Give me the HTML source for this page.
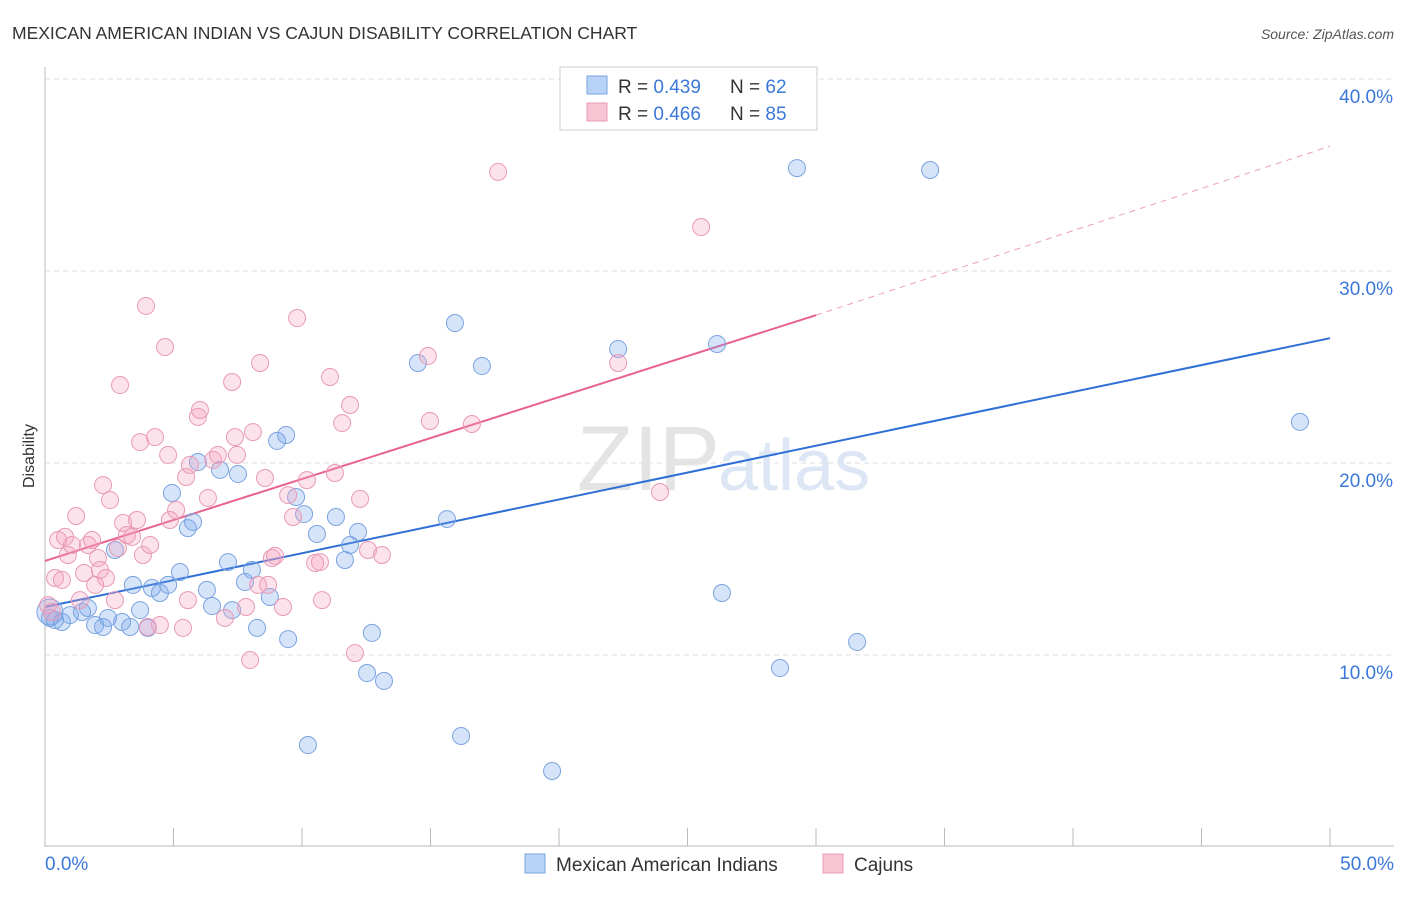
<!DOCTYPE html>
<html><head><meta charset="utf-8"><style>
body{margin:0;background:#fff;font-family:"Liberation Sans",sans-serif;}
svg text{font-family:"Liberation Sans",sans-serif;}
</style></head><body>
<svg id="chart" width="1406" height="892">
<text x="12" y="39" font-size="17.5" fill="#333">MEXICAN AMERICAN INDIAN VS CAJUN DISABILITY CORRELATION CHART</text>
<text x="1394" y="39" font-size="14" fill="#555" font-style="italic" text-anchor="end">Source: ZipAtlas.com</text>
<text x="34" y="456" font-size="16" fill="#333" text-anchor="middle" transform="rotate(-90 34 456)">Disability</text>
<g id="grid"></g>
<text x="720" y="490" font-size="92" fill="#e4e4e4" text-anchor="end" font-family="Liberation Serif">ZIP</text>
<text x="718" y="490" font-size="72" fill="#dce6f5">atlas</text>
<g id="lines"></g>
<g id="points"></g>
<g>
<rect x="560" y="67" width="257" height="63" fill="#fff" stroke="#ccc"/>
<rect x="587" y="76" width="20" height="18" fill="#b8d3f5" stroke="#7aa3e0"/>
<rect x="587" y="103" width="20" height="18" fill="#f8c4d4" stroke="#e89ab5"/>
<text x="618" y="93" font-size="19" fill="#333">R = <tspan fill="#3b78d8">0.439</tspan></text>
<text x="730" y="93" font-size="19" fill="#333">N = <tspan fill="#3b78d8">62</tspan></text>
<text x="618" y="120" font-size="19" fill="#333">R = <tspan fill="#3b78d8">0.466</tspan></text>
<text x="730" y="120" font-size="19" fill="#333">N = <tspan fill="#3b78d8">85</tspan></text>
</g>
<g>
<rect x="525" y="854" width="20" height="19" fill="#b8d3f5" stroke="#7aa3e0"/>
<text x="556" y="871" font-size="19" fill="#333">Mexican American Indians</text>
<rect x="823" y="854" width="20" height="19" fill="#f8c4d4" stroke="#e89ab5"/>
<text x="854" y="871" font-size="19" fill="#333">Cajuns</text>
</g>
</svg>
<script>
const blueX=[0.19,0.39,0.66,0.97,1.44,1.67,1.95,2.26,2.45,3.0,3.31,3.42,3.7,4.0,4.16,4.47,4.79,4.94,5.25,5.56,5.76,5.95,6.3,6.5,6.81,7.12,7.28,7.51,7.78,8.05,8.25,8.75,9.03,9.38,9.46,9.77,10.08,10.23,10.58,11.32,11.67,11.87,12.18,12.53,12.72,13.19,14.51,15.64,15.95,16.19,17.0,19.73,22.3,26.15,26.34,28.6,29.26,31.6,34.44,48.83,2.72,0.19];
const blueY=[12.24,11.82,11.72,12.08,12.24,12.45,11.56,11.46,11.93,11.72,11.46,13.65,12.34,11.41,13.49,13.23,13.65,18.44,14.32,16.61,16.93,20.05,13.39,12.55,19.64,14.84,12.34,19.43,13.8,14.43,11.41,13.02,21.15,21.46,10.83,18.23,17.34,5.31,16.3,17.19,14.95,15.73,16.41,9.06,11.15,8.65,25.21,17.08,27.29,5.78,25.05,3.96,25.94,26.2,13.23,9.32,35.36,10.68,35.26,22.14,15.47,11.93];
const pinkX=[0.12,0.27,0.39,0.51,0.66,0.78,0.89,1.05,1.21,1.36,1.52,1.67,1.83,1.95,2.06,2.14,2.26,2.37,2.53,2.72,2.84,2.92,3.04,3.19,3.39,3.58,3.7,3.81,3.93,4.09,4.28,4.47,4.67,4.79,4.86,5.1,5.37,5.49,5.56,5.64,5.95,6.03,6.34,6.54,6.73,7.0,7.28,7.39,7.47,7.82,7.98,8.09,8.29,8.37,8.56,8.68,8.83,8.95,9.26,9.46,9.65,9.81,10.19,10.51,10.7,10.78,11.09,11.28,11.56,11.87,12.06,12.26,12.57,13.11,14.9,14.98,16.61,17.63,22.3,23.93,25.53,4.0];
const pinkY=[12.6,12.24,14.01,15.99,13.91,16.15,15.21,15.73,17.24,12.86,14.27,15.73,15.99,13.65,15.05,14.43,18.85,14.01,18.07,12.86,15.57,24.06,16.88,16.25,16.15,17.03,21.09,15.21,28.18,15.73,21.35,11.56,26.04,20.42,17.03,17.55,11.41,19.27,12.86,19.9,22.4,22.76,18.18,20.16,20.42,11.93,24.22,21.35,20.42,12.5,9.74,21.61,13.65,25.21,19.22,13.65,15.05,15.16,12.5,18.33,17.19,27.55,19.11,14.79,14.84,12.86,24.48,19.48,22.08,23.02,10.1,18.13,15.47,15.21,25.57,22.19,22.03,35.16,25.21,18.49,32.29,11.46];
const yTicks=[10,20,30,40];
const yTickLabels=["10.0%","20.0%","30.0%","40.0%"];
const xTicks=[0,5,10,15,20,25,30,35,40,45,50];
const blueTrend=[12.5,26.5];   // y at x=0 and x=50
const pinkTrend=[14.9,27.7,36.5]; // y at x=0, x=30 (solid end), x=50
const sx=v=>45+v*25.7, sy=v=>847-v*19.2;
const NS="http://www.w3.org/2000/svg";
function mk(tag,attrs,parent){const e=document.createElementNS(NS,tag);for(const k in attrs)e.setAttribute(k,attrs[k]);parent.appendChild(e);return e;}
const grid=document.getElementById('grid');
yTicks.forEach((t,i)=>{
 const l=mk('line',{x1:45,x2:1394,y1:sy(t),y2:sy(t),stroke:'#ddd','stroke-dasharray':'5,4'},grid);
 
 
 const tx=mk('text',{x:1393,y:sy(t)+24,'font-size':19,fill:'#3b78d8','text-anchor':'end'},grid);
 tx.textContent=yTickLabels[i];
 
 
});
const ax=mk('line',{x1:45,x2:45,y1:67,y2:847,stroke:'#bbb'},grid);


const bx=mk('line',{x1:45,x2:1394,y1:846,y2:846,stroke:'#bbb'},grid);


xTicks.forEach(t=>{
 const l=mk('line',{x1:sx(t),x2:sx(t),y1:828,y2:846,stroke:'#bbb'},grid);
 
 
});
const xl0=mk('text',{x:45,y:870,'font-size':19,fill:'#3b78d8'},grid);xl0.textContent='0.0%';


const xl1=mk('text',{x:1394,y:870,'font-size':19,fill:'#3b78d8','text-anchor':'end'},grid);xl1.textContent='50.0%';


const pts=document.getElementById('points');
blueX.forEach((x,i)=>{
 const c=mk('circle',{cx:sx(x),cy:sy(blueY[i]),r:i==0?13:8.5,fill:'rgba(120,165,235,0.3)',stroke:'#7aa3e0','stroke-width':1},pts);
 
 
});
pinkX.forEach((x,i)=>{
 const c=mk('circle',{cx:sx(x),cy:sy(pinkY[i]),r:8.5,fill:'rgba(245,160,190,0.3)',stroke:'#e89ab5','stroke-width':1},pts);
 
 
});
const ln=document.getElementById('lines');
const b=mk('line',{x1:sx(0),y1:sy(blueTrend[0]),x2:sx(50),y2:sy(blueTrend[1]),stroke:'#2f6fd6','stroke-width':2},ln);


const p=mk('line',{x1:sx(0),y1:sy(pinkTrend[0]),x2:sx(30),y2:sy(pinkTrend[1]),stroke:'#e8628f','stroke-width':2},ln);


const pd=mk('line',{x1:sx(30),y1:sy(pinkTrend[1]),x2:sx(50),y2:sy(pinkTrend[2]),stroke:'#eaa0b8','stroke-width':1,'stroke-dasharray':'6,5'},ln);


</script>
</body></html>
